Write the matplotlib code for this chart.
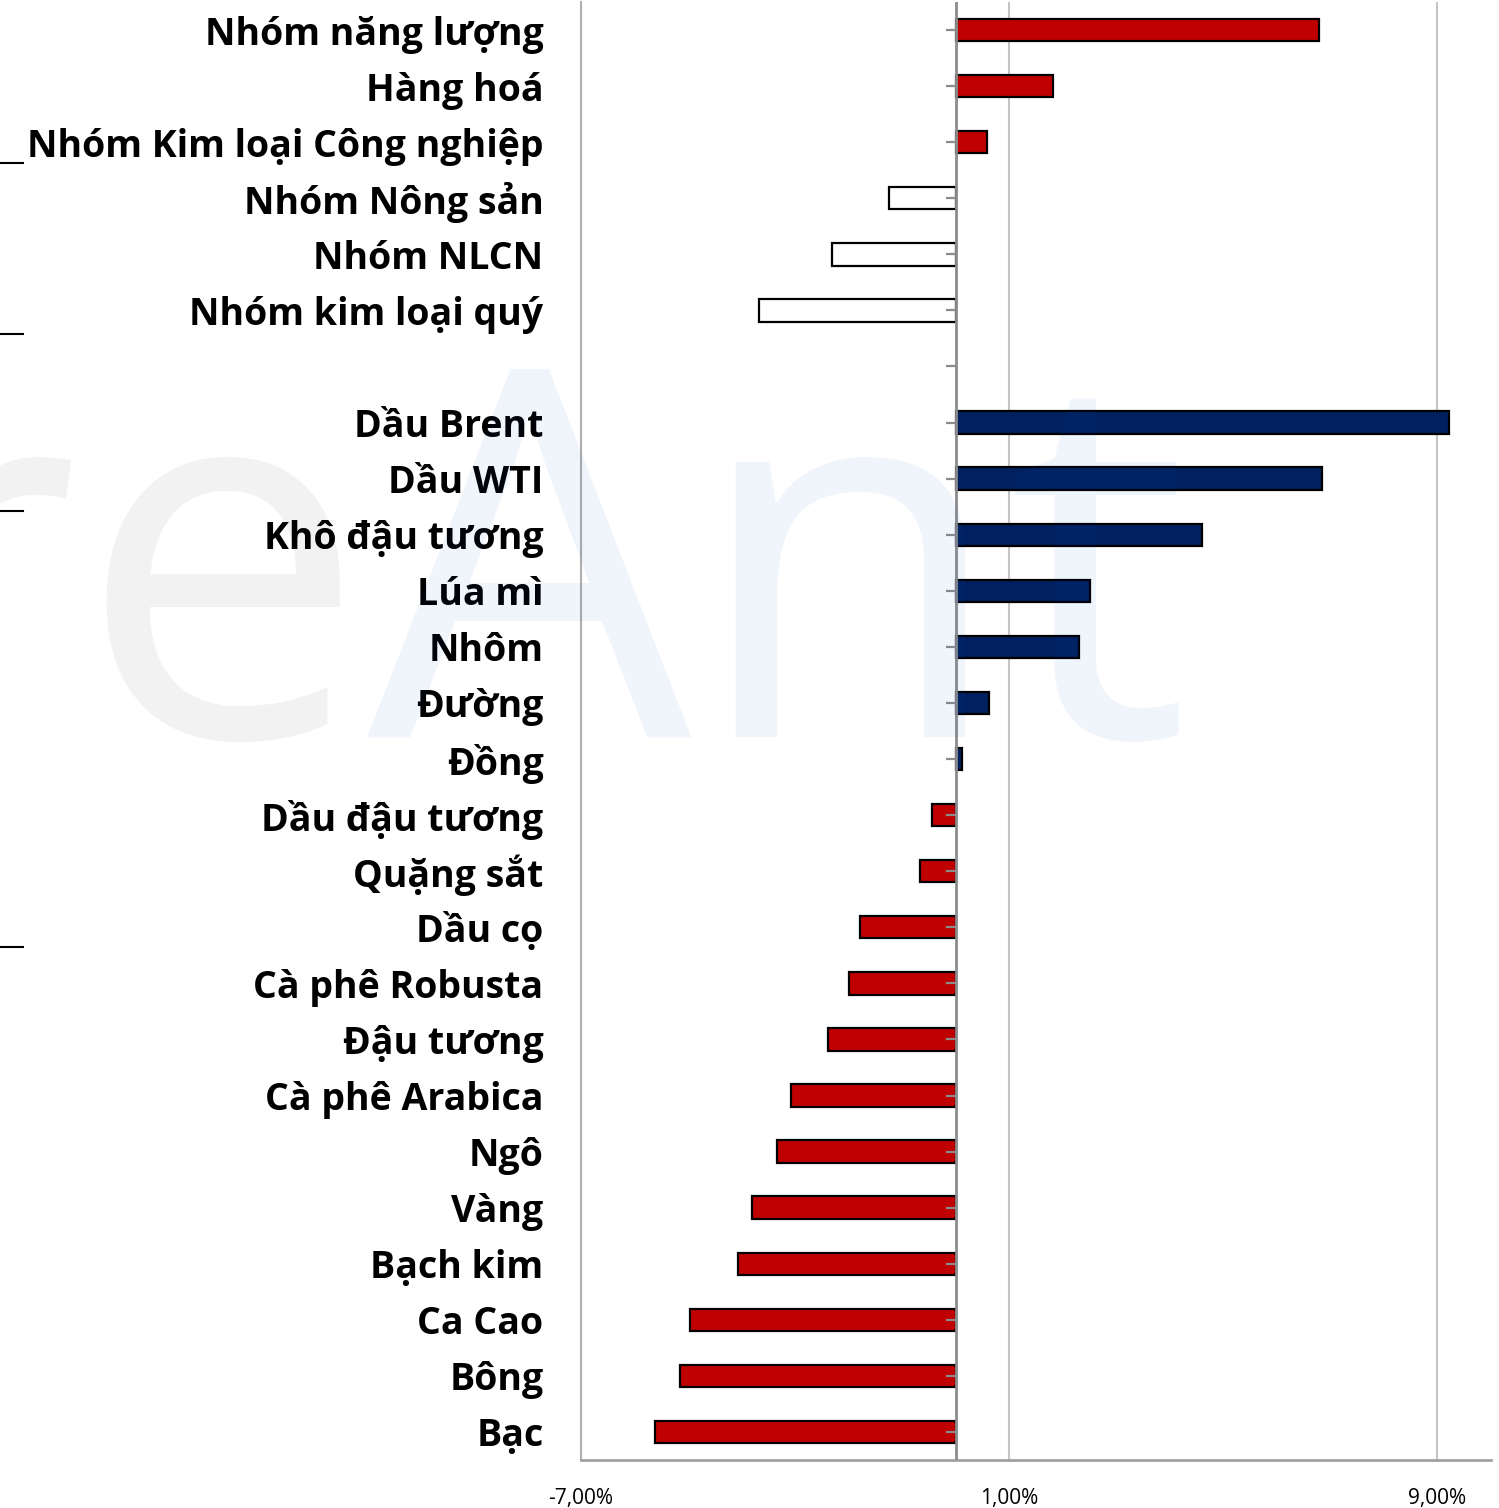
import numpy as np
import matplotlib
matplotlib.use("Agg")
import matplotlib.pyplot as plt
from matplotlib.lines import Line2D

# nhóm hàng hoá (phần trên)
group_labels = ["Nhóm năng lượng", "Hàng hoá", "Nhóm Kim loại Công nghiệp",
                "Nhóm Nông sản", "Nhóm NLCN", "Nhóm kim loại quý"]
group_values = [6.79, 1.82, 0.59, -1.24, -2.31, -3.67]

# từng mặt hàng (phần dưới)
item_labels = ["Dầu Brent", "Dầu WTI", "Khô đậu tương", "Lúa mì", "Nhôm", "Đường",
               "Đồng", "Dầu đậu tương", "Quặng sắt", "Dầu cọ", "Cà phê Robusta",
               "Đậu tương", "Cà phê Arabica", "Ngô", "Vàng", "Bạch kim", "Ca Cao",
               "Bông", "Bạc"]
item_values = [9.21, 6.85, 4.61, 2.51, 2.31, 0.63, 0.12, -0.44, -0.66, -1.79,
               -1.99, -2.38, -3.08, -3.34, -3.80, -4.07, -4.96, -5.15, -5.62]

x_ticks = [-7, 1, 9]

RED = "#c00000"
NAVY = "#002060"
GREY = "#8c8c8c"

labels = group_labels + [""] + item_labels
n = len(labels)
y = np.arange(n)

W, H = 1499, 1508
fig = plt.figure(figsize=(W / 100, H / 100), dpi=100)
ax = fig.add_axes([581 / W, 1 - 1460 / H, (1491 - 581) / W, (1460 - 2) / H])
ax.patch.set_visible(False)

# thanh: nhóm (đỏ / trắng), mặt hàng (xanh / đỏ)
yg = y[:len(group_values)]
gcol = [RED if v >= 0 else "white" for v in group_values]
ax.barh(yg, group_values, height=0.4, color=gcol, edgecolor="black",
        linewidth=1.6, zorder=3)
yi = y[len(group_values) + 1:]
icol = [NAVY if v >= 0 else RED for v in item_values]
ax.barh(yi, item_values, height=0.4, color=icol, edgecolor="black",
        linewidth=1.6, zorder=3)

ax.axvline(0, color=GREY, lw=2, zorder=4)
ax.plot(np.zeros(n), y, ls="none", marker=0, ms=7, mew=1.6, color=GREY, zorder=4)

ax.set_xlim(-7, 10)
ax.set_ylim(n - 0.5, -0.5)
ax.set_xticks(x_ticks, [f"{v:.2f}%".replace(".", ",") for v in x_ticks])
ax.set_yticks(y, labels)
ax.grid(axis="x", color="#c4c4c4", lw=1.5)
ax.set_axisbelow(True)

for s in ["top", "right"]:
    ax.spines[s].set_visible(False)
ax.spines["left"].set_color("#b0b0b0")
ax.spines["left"].set_linewidth(1.5)
ax.spines["bottom"].set_color("#a0a0a0")
ax.spines["bottom"].set_linewidth(2)

ax.tick_params(axis="y", length=0, pad=27)
ax.tick_params(axis="x", length=0, pad=20)
for t in ax.get_yticklabels():
    t.set_fontfamily("Open Sans")
    t.set_fontweight("bold")
    t.set_fontsize(27)
for t in ax.get_xticklabels():
    t.set_fontfamily("Open Sans")
    t.set_fontsize(15)

# watermark
fig.text(-0.088, 1 - 737 / H, "re", fontsize=370, family="Open Sans",
         fontweight="normal", color="black", alpha=0.05, va="baseline", zorder=10)
fig.text(0.245, 1 - 737 / H, "Ant", fontsize=370, family="Open Sans",
         fontweight="normal", color="#0055bb", alpha=0.06, va="baseline", zorder=10)

# vạch đen nhỏ ở mép trái
for py in [163, 334, 511, 947]:
    fig.add_artist(Line2D([0, 23 / W], [1 - py / H, 1 - py / H], color="black", lw=1.5))

fig.savefig("out.png", dpi=100)
